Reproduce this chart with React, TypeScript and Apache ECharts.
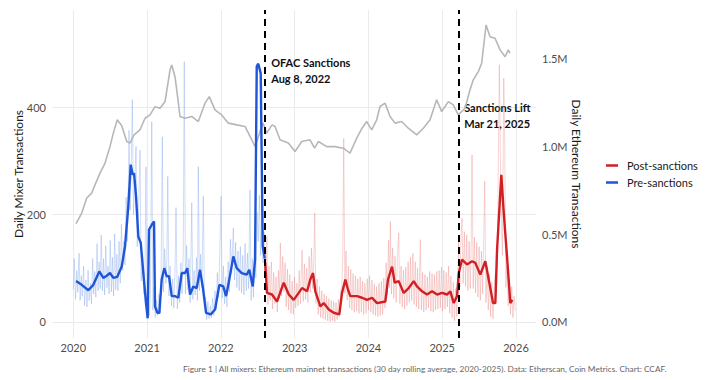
import React, { useEffect, useRef } from "react";
import * as echarts from "echarts";

const FONT = "Lato, 'Open Sans', sans-serif";

// Ethereum daily transactions, 30-day rolling average (right axis) — [decimal year, tx]
const ethDaily: [number, number][] = [
  [2020.037, 560000], [2020.114, 621000], [2020.182, 707000], [2020.249, 735000], [2020.294, 782000],
  [2020.362, 849000], [2020.43, 906000], [2020.497, 1000000], [2020.542, 1077000], [2020.596, 1153000],
  [2020.656, 1119000], [2020.724, 1029000], [2020.768, 1020000], [2020.823, 1067000], [2020.904, 1096000],
  [2020.972, 1162000], [2021.04, 1181000], [2021.107, 1228000], [2021.175, 1219000], [2021.243, 1257000],
  [2021.311, 1438000], [2021.334, 1466000], [2021.378, 1399000], [2021.419, 1267000], [2021.446, 1172000],
  [2021.514, 1162000], [2021.605, 1172000], [2021.694, 1143000], [2021.785, 1248000], [2021.843, 1285000],
  [2021.92, 1210000], [2022.011, 1181000], [2022.101, 1134000], [2022.215, 1124000], [2022.327, 1115000],
  [2022.395, 1058000], [2022.463, 1001000], [2022.517, 1067000], [2022.571, 1135000], [2022.621, 1077000],
  [2022.693, 1124000], [2022.734, 1115000], [2022.802, 1039000], [2022.914, 1020000], [2023.005, 972000],
  [2023.096, 1029000], [2023.208, 1039000], [2023.27, 991000], [2023.321, 1029000], [2023.435, 1000000],
  [2023.547, 1000000], [2023.66, 991000], [2023.75, 963000], [2023.841, 1048000], [2023.913, 1105000],
  [2023.977, 1143000], [2024.044, 1096000], [2024.112, 1153000], [2024.157, 1229000], [2024.225, 1248000],
  [2024.293, 1172000], [2024.36, 1134000], [2024.45, 1143000], [2024.54, 1105000], [2024.654, 1067000],
  [2024.744, 1105000], [2024.835, 1153000], [2024.925, 1267000], [2024.993, 1200000], [2025.083, 1257000],
  [2025.15, 1238000], [2025.218, 1181000], [2025.309, 1219000], [2025.377, 1324000], [2025.421, 1381000],
  [2025.489, 1428000], [2025.535, 1476000], [2025.594, 1694000], [2025.648, 1627000], [2025.716, 1618000],
  [2025.784, 1552000], [2025.851, 1513000], [2025.896, 1552000], [2025.919, 1534000],
];

// Mixer transactions, 30-day rolling average, before sanctions (left axis)
const preSanctions: [number, number][] = [
  [2020.037, 76], [2020.114, 69], [2020.203, 59], [2020.271, 69], [2020.352, 94], [2020.407, 82],
  [2020.453, 86], [2020.497, 91], [2020.542, 82], [2020.596, 84], [2020.656, 103], [2020.701, 141],
  [2020.745, 215], [2020.778, 293], [2020.805, 274], [2020.823, 277], [2020.85, 234], [2020.881, 159],
  [2020.914, 147], [2020.949, 91], [2020.985, 35], [2021.008, 7], [2021.026, 172], [2021.063, 181],
  [2021.094, 187], [2021.107, 29], [2021.139, 17], [2021.166, 17], [2021.198, 79], [2021.233, 100],
  [2021.266, 85], [2021.297, 85], [2021.334, 48], [2021.378, 48], [2021.423, 45], [2021.469, 91],
  [2021.514, 91], [2021.545, 100], [2021.582, 51], [2021.626, 66], [2021.673, 63], [2021.717, 97],
  [2021.754, 66], [2021.799, 17], [2021.862, 14], [2021.921, 23], [2021.979, 69], [2022.033, 66],
  [2022.07, 48], [2022.101, 69], [2022.169, 122], [2022.215, 100], [2022.282, 91], [2022.35, 88],
  [2022.385, 97], [2022.432, 66], [2022.463, 116], [2022.486, 476], [2022.507, 481], [2022.54, 463],
  [2022.567, 141], [2022.595, 118],
];

// Mixer transactions, 30-day rolling average, after sanctions (left axis)
const postSanctions: [number, number][] = [
  [2022.6, 110], [2022.625, 54], [2022.693, 51], [2022.761, 38], [2022.852, 73], [2022.92, 51],
  [2022.987, 41], [2023.055, 54], [2023.1, 63], [2023.168, 57], [2023.212, 79], [2023.249, 91],
  [2023.28, 57], [2023.348, 29], [2023.394, 35], [2023.462, 23], [2023.529, 17], [2023.605, 14],
  [2023.642, 54], [2023.687, 79], [2023.723, 60], [2023.754, 48], [2023.845, 48], [2023.913, 45],
  [2023.981, 41], [2024.049, 45], [2024.116, 35], [2024.229, 38], [2024.265, 79], [2024.32, 103],
  [2024.356, 73], [2024.41, 76], [2024.478, 54], [2024.546, 63], [2024.614, 76], [2024.658, 66],
  [2024.726, 57], [2024.794, 51], [2024.862, 57], [2024.93, 51], [2024.997, 54], [2025.065, 51],
  [2025.11, 57], [2025.156, 35], [2025.201, 48], [2025.224, 91], [2025.268, 116], [2025.336, 107],
  [2025.404, 113], [2025.449, 110], [2025.516, 88], [2025.584, 113], [2025.63, 79], [2025.689, 35],
  [2025.72, 35], [2025.743, 134], [2025.801, 274], [2025.834, 203], [2025.878, 122], [2025.923, 35],
  [2025.95, 41],
];

// Raw daily mixer transactions (faint lines)
const preDaily: [number, number][] = [
  [2020.0, 60], [2020.012, 118], [2020.03, 42], [2020.047, 96], [2020.06, 55], [2020.078, 128],
  [2020.092, 40], [2020.108, 86], [2020.121, 48], [2020.14, 104], [2020.152, 30], [2020.17, 78],
  [2020.186, 28], [2020.2, 96], [2020.214, 40], [2020.232, 72], [2020.246, 34], [2020.262, 118],
  [2020.276, 52], [2020.29, 94], [2020.305, 46], [2020.322, 146], [2020.336, 58], [2020.35, 112],
  [2020.365, 62], [2020.378, 162], [2020.394, 58], [2020.41, 118], [2020.424, 50], [2020.44, 142],
  [2020.455, 64], [2020.47, 104], [2020.485, 52], [2020.5, 152], [2020.516, 56], [2020.53, 120],
  [2020.546, 48], [2020.56, 164], [2020.575, 60], [2020.59, 126], [2020.605, 58], [2020.62, 150],
  [2020.636, 72], [2020.652, 182], [2020.668, 96], [2020.684, 150], [2020.7, 106], [2020.716, 232],
  [2020.732, 150], [2020.745, 250], [2020.755, 357], [2020.77, 208], [2020.786, 300], [2020.8, 414],
  [2020.815, 200], [2020.832, 262], [2020.85, 327], [2020.866, 140], [2020.884, 206], [2020.904, 320],
  [2020.92, 76], [2020.94, 128], [2020.956, 52], [2020.972, 96], [2020.985, 289], [2021.0, 6],
  [2021.015, 44], [2021.03, 12], [2021.046, 58], [2021.063, 373], [2021.078, 22], [2021.094, 64],
  [2021.11, 8], [2021.126, 40], [2021.142, 12], [2021.16, 52], [2021.175, 14], [2021.19, 88],
  [2021.206, 345], [2021.222, 56], [2021.238, 136], [2021.254, 72], [2021.268, 118], [2021.28, 271],
  [2021.296, 48], [2021.312, 104], [2021.33, 30], [2021.346, 80], [2021.362, 26], [2021.378, 96],
  [2021.392, 213], [2021.41, 24], [2021.426, 86], [2021.442, 36], [2021.458, 110], [2021.474, 52],
  [2021.49, 132], [2021.504, 485], [2021.52, 52], [2021.536, 142], [2021.552, 60], [2021.568, 118],
  [2021.584, 36], [2021.605, 222], [2021.62, 42], [2021.636, 96], [2021.652, 50], [2021.67, 120],
  [2021.682, 40], [2021.694, 289], [2021.71, 58], [2021.725, 126], [2021.742, 64], [2021.762, 234],
  [2021.778, 30], [2021.794, 46], [2021.808, 4], [2021.824, 38], [2021.84, 6], [2021.856, 30],
  [2021.872, 8], [2021.888, 44], [2021.904, 12], [2021.92, 58], [2021.936, 24], [2021.952, 92],
  [2021.968, 46], [2021.984, 120], [2022.002, 234], [2022.018, 44], [2022.034, 104], [2022.05, 34],
  [2022.066, 84], [2022.082, 28], [2022.098, 112], [2022.114, 56], [2022.13, 154], [2022.146, 90],
  [2022.169, 175], [2022.184, 78], [2022.2, 148], [2022.216, 64], [2022.232, 132], [2022.248, 58],
  [2022.264, 140], [2022.28, 54], [2022.296, 124], [2022.312, 50], [2022.328, 146], [2022.344, 58],
  [2022.36, 128], [2022.376, 62], [2022.395, 246], [2022.41, 40], [2022.426, 118], [2022.442, 46],
  [2022.458, 132], [2022.474, 82], [2022.49, 204], [2022.506, 150], [2022.522, 236], [2022.538, 124],
  [2022.554, 210], [2022.57, 110], [2022.585, 168], [2022.598, 92],
];

const postDaily: [number, number][] = [
  [2022.6, 130], [2022.612, 68], [2022.624, 159], [2022.638, 32], [2022.652, 104], [2022.668, 40],
  [2022.684, 112], [2022.7, 24], [2022.716, 92], [2022.732, 34], [2022.748, 84], [2022.764, 18],
  [2022.78, 96], [2022.794, 44], [2022.806, 147], [2022.822, 48], [2022.838, 122], [2022.854, 56],
  [2022.87, 110], [2022.886, 28], [2022.902, 98], [2022.918, 22], [2022.934, 88], [2022.95, 16],
  [2022.966, 76], [2022.982, 14], [2022.998, 84], [2023.014, 26], [2023.03, 72], [2023.046, 30],
  [2023.062, 96], [2023.078, 34], [2023.1, 134], [2023.116, 38], [2023.132, 108], [2023.148, 42],
  [2023.164, 100], [2023.18, 36], [2023.196, 122], [2023.212, 56], [2023.228, 138], [2023.244, 62],
  [2023.26, 118], [2023.272, 203], [2023.288, 34], [2023.304, 80], [2023.32, 14], [2023.336, 66],
  [2023.352, 8], [2023.368, 58], [2023.384, 6], [2023.4, 52], [2023.416, 4], [2023.432, 48],
  [2023.448, 2], [2023.464, 44], [2023.48, 0], [2023.496, 40], [2023.512, 2], [2023.528, 38],
  [2023.544, 0], [2023.56, 36], [2023.576, 4], [2023.592, 42], [2023.608, 10], [2023.624, 56],
  [2023.64, 70], [2023.652, 120], [2023.665, 342], [2023.68, 54], [2023.696, 132], [2023.712, 40],
  [2023.728, 104], [2023.744, 26], [2023.76, 98], [2023.776, 22], [2023.792, 90], [2023.808, 18],
  [2023.824, 86], [2023.84, 20], [2023.856, 80], [2023.872, 16], [2023.888, 84], [2023.904, 18],
  [2023.92, 76], [2023.936, 14], [2023.952, 72], [2023.968, 16], [2023.984, 80], [2024.0, 22],
  [2024.016, 86], [2024.032, 18], [2024.048, 78], [2024.064, 14], [2024.08, 70], [2024.096, 12],
  [2024.112, 66], [2024.128, 10], [2024.144, 72], [2024.16, 12], [2024.176, 76], [2024.192, 14],
  [2024.208, 82], [2024.224, 26], [2024.24, 110], [2024.256, 50], [2024.272, 152], [2024.286, 64],
  [2024.297, 187], [2024.312, 52], [2024.328, 138], [2024.344, 44], [2024.36, 122], [2024.376, 36],
  [2024.392, 118], [2024.41, 166], [2024.426, 34], [2024.442, 104], [2024.458, 28], [2024.474, 96],
  [2024.49, 24], [2024.506, 102], [2024.522, 30], [2024.538, 112], [2024.554, 36], [2024.57, 120],
  [2024.586, 40], [2024.602, 128], [2024.618, 32], [2024.634, 112], [2024.65, 28], [2024.666, 100],
  [2024.682, 24], [2024.703, 153], [2024.718, 22], [2024.734, 92], [2024.75, 18], [2024.766, 88],
  [2024.782, 22], [2024.798, 84], [2024.814, 26], [2024.83, 94], [2024.846, 20], [2024.862, 90],
  [2024.878, 18], [2024.894, 88], [2024.91, 22], [2024.926, 94], [2024.942, 24], [2024.958, 96],
  [2024.974, 26], [2024.99, 102], [2025.006, 20], [2025.022, 96], [2025.038, 24], [2025.054, 92],
  [2025.07, 28], [2025.086, 104], [2025.102, 16], [2025.118, 86], [2025.134, 8], [2025.15, 74],
  [2025.166, 2], [2025.182, 62], [2025.198, 10], [2025.21, 80], [2025.222, 150], [2025.238, 64],
  [2025.254, 158], [2025.268, 193], [2025.284, 72], [2025.3, 168], [2025.316, 66], [2025.332, 162],
  [2025.348, 58], [2025.364, 150], [2025.38, 62], [2025.392, 140], [2025.404, 311], [2025.42, 62],
  [2025.436, 158], [2025.452, 54], [2025.468, 148], [2025.484, 46], [2025.5, 140], [2025.516, 40],
  [2025.532, 132], [2025.548, 52], [2025.562, 150], [2025.576, 262], [2025.592, 36], [2025.608, 104],
  [2025.624, 22], [2025.64, 88], [2025.656, 10], [2025.672, 74], [2025.688, 6], [2025.704, 66],
  [2025.72, 90], [2025.736, 52], [2025.752, 180], [2025.774, 479], [2025.788, 311], [2025.8, 206],
  [2025.816, 124], [2025.834, 454], [2025.847, 339], [2025.862, 64], [2025.878, 104], [2025.894, 30],
  [2025.91, 80], [2025.926, 14], [2025.942, 66], [2025.958, 8], [2025.974, 48], [2025.99, 20],
];

// Event markers
const events = [
  { year: 2022.6, title: "OFAC Sanctions", date: "Aug 8, 2022", top: 54 },
  { year: 2025.216, title: "Sanctions Lift", date: "Mar 21, 2025", top: 99 },
];

const legendNames = ["Post-sanctions", "Pre-sanctions"];
const caption =
  "Figure 1 | All mixers: Ethereum mainnet transactions (30 day rolling average, 2020-2025). Data: Etherscan, Coin Metrics. Chart: CCAF.";

// Axis ranges
const X_MIN = 2019.711;
const X_MAX = 2026.271;
const L_MIN = -30;
const L_MAX = 581;
const TX_PER_MIXER = 1e6 / 326.5;
const R_MIN = L_MIN * TX_PER_MIXER;
const R_MAX = L_MAX * TX_PER_MIXER;

const GRID_COLOR = "#ebebeb";
const LABEL_COLOR = "#4d4d4d";

export default function App() {
  const ref = useRef<HTMLDivElement>(null);
  useEffect(() => {
    if (!ref.current) return;
    document.body.style.margin = "0";
    const chart = echarts.init(ref.current, null, { renderer: "svg" });
    const splitLine = {
      show: true,
      showMinLine: false,
      showMaxLine: false,
      lineStyle: { color: GRID_COLOR, width: 1 },
    };
    chart.setOption({
      animation: false,
      grid: { left: 52, right: 184, top: 10, bottom: 42, containLabel: false, outerBoundsMode: "none" },
      legend: {
        data: legendNames,
        orient: "vertical",
        left: 601,
        top: 154,
        icon: "rect",
        itemWidth: 12,
        itemHeight: 2.5,
        itemGap: 4,
        textStyle: { fontFamily: FONT, fontSize: 11, color: "#1a1a1a", padding: [0, 0, 0, 4], lineHeight: 13 },
      },
      xAxis: {
        type: "value",
        min: X_MIN,
        max: X_MAX,
        minInterval: 1,
        maxInterval: 1,
        axisLine: { show: false },
        axisTick: { show: false },
        splitLine,
        axisLabel: {
          color: LABEL_COLOR,
          fontFamily: FONT,
          fontSize: 11,
          margin: 4,
          showMinLabel: false,
          showMaxLabel: false,
          formatter: (v: number) => (Math.abs(v - Math.round(v)) < 1e-6 ? String(Math.round(v)) : ""),
        },
      },
      yAxis: [
        {
          type: "value",
          min: L_MIN,
          max: L_MAX,
          minInterval: 200,
          maxInterval: 200,
          name: "Daily Mixer Transactions",
          nameLocation: "middle",
          nameGap: 28,
          nameMoveOverlap: false,
          nameTextStyle: { fontFamily: FONT, fontSize: 12, color: "#1a1a1a" },
          axisLine: { show: false },
          axisTick: { show: false },
          splitLine,
          axisLabel: {
            color: LABEL_COLOR,
            fontFamily: FONT,
            fontSize: 11,
            margin: 6,
            showMinLabel: false,
            showMaxLabel: false,
            formatter: (v: number) => (Math.abs(v % 200) < 1e-6 ? String(v) : ""),
          },
        },
        {
          type: "value",
          position: "right",
          min: R_MIN,
          max: R_MAX,
          minInterval: 500000,
          maxInterval: 500000,
          name: "Daily Ethereum Transactions",
          nameLocation: "middle",
          nameRotate: -90,
          nameGap: 34,
          nameMoveOverlap: false,
          nameTextStyle: { fontFamily: FONT, fontSize: 12, color: "#1a1a1a" },
          axisLine: { show: false },
          axisTick: { show: false },
          splitLine: { show: false },
          axisLabel: {
            color: LABEL_COLOR,
            fontFamily: FONT,
            fontSize: 11,
            margin: 6,
            showMinLabel: false,
            showMaxLabel: false,
            formatter: (v: number) =>
              Math.abs(v % 500000) < 1e-3 ? (v / 1e6).toFixed(1) + "M" : "",
          },
        },
      ],
      series: [
        {
          name: "Pre daily",
          type: "line",
          data: preDaily,
          symbol: "none",
          silent: true,
          lineStyle: { color: "rgba(120,160,232,0.45)", width: 0.8 },
          z: 1,
        },
        {
          name: "Post daily",
          type: "line",
          data: postDaily,
          symbol: "none",
          silent: true,
          lineStyle: { color: "rgba(232,120,120,0.4)", width: 0.8 },
          z: 1,
        },
        {
          name: "Ethereum",
          type: "line",
          yAxisIndex: 1,
          data: ethDaily,
          symbol: "none",
          silent: true,
          lineStyle: { color: "#b5b7ba", width: 1.6 },
          z: 2,
        },
        {
          name: "Pre-sanctions",
          type: "line",
          data: preSanctions,
          symbol: "none",
          lineStyle: { color: "#1f55d8", width: 2.4 },
          itemStyle: { color: "#1f55d8" },
          z: 3,
        },
        {
          name: "Post-sanctions",
          type: "line",
          data: postSanctions,
          symbol: "none",
          lineStyle: { color: "#d11f23", width: 2.4 },
          itemStyle: { color: "#d11f23" },
          z: 3,
          markLine: {
            silent: true,
            symbol: "none",
            label: { show: false },
            lineStyle: { color: "#000", type: [7, 5], width: 2 },
            data: events.map((e) => ({ xAxis: e.year })),
          },
        },
      ],
    });
    const texts: any[] = [];
    events.forEach((e) => {
      const px = chart.convertToPixel({ xAxisIndex: 0 }, e.year) as number;
      texts.push({
        type: "text",
        left: px + 6,
        top: e.top,
        style: {
          text: e.title + "\n" + e.date,
          font: `bold 11px ${FONT}`,
          fill: "#111",
          lineHeight: 16,
        },
      });
    });
    texts.push({
      type: "text",
      left: 183,
      top: 365,
      style: { text: caption, font: `8.3px ${FONT}`, fill: "#666" },
    });
    chart.setOption({ graphic: texts });
    return () => chart.dispose();
  }, []);
  return <div ref={ref} style={{ width: 720, height: 380 }} />;
}
